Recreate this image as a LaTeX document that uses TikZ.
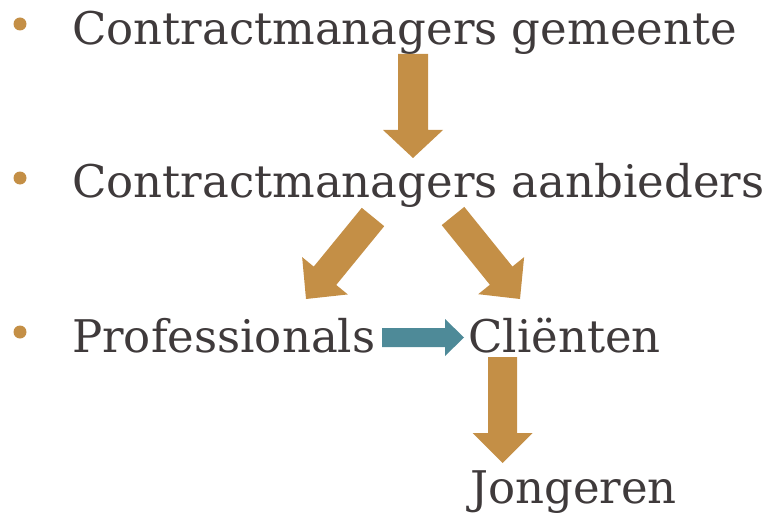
\documentclass[tikz,border=0pt]{standalone}
\usepackage{fontspec}
\setmainfont{DejaVu Serif}
\usetikzlibrary{calc}
\definecolor{txt}{HTML}{3F3A3B}
\definecolor{brown}{HTML}{C48F46}
\definecolor{teal}{HTML}{4E8A98}
\tikzset{
  lbl/.style={anchor=base west, inner sep=0pt, text=txt, font=\fontsize{45}{50}\selectfont},
  bul/.style={circle, fill=brown, minimum size=13pt, inner sep=0pt},
}
% #1 colour, #2 start, #3 end, #4 shaft half width, #5 head half width, #6 head length
\newcommand\blockarrow[6]{%
  \coordinate (hb) at ($(#3)!#6!(#2)$);
  \fill[#1] ($(#2)!#4!90:(#3)$) -- ($(hb)!#4!90:(#3)$) -- ($(hb)!#5!90:(#3)$) -- (#3)
    -- ($(hb)!#5!-90:(#3)$) -- ($(hb)!#4!-90:(#3)$) -- ($(#2)!#4!-90:(#3)$) -- cycle;
}
\begin{document}
\begin{tikzpicture}[x=1pt,y=-1pt]
\useasboundingbox (0,0) rectangle (767,513);
\node[bul] (b1) at (20,24) {};
\node[bul] (b2) at (20,178) {};
\node[bul] (b3) at (20,332) {};
\node[lbl] (gem) at (72,45) {Contractmanagers gemeente};
\node[lbl] (aan) at (72,197) {Contractmanagers aanbieders};
\node[lbl] (pro) at (72,352) {Professionals};
\node[lbl] (cli) at (468,352) {Cliënten};
\node[lbl] (jon) at (470,503) {Jongeren};
\coordinate (a1s) at (413,54);  \coordinate (a1e) at (413,158);
\coordinate (a2s) at (373,217); \coordinate (a2e) at (306,299);
\coordinate (a3s) at (453,216); \coordinate (a3e) at (520,299);
\coordinate (a4s) at (382,337.5); \coordinate (a4e) at (464,337.5);
\coordinate (a5s) at (502.5,357); \coordinate (a5e) at (502.5,463);
\blockarrow{brown}{a1s}{a1e}{15pt}{30pt}{28pt}
\blockarrow{brown}{a2s}{a2e}{14.5pt}{29.5pt}{30pt}
\blockarrow{brown}{a3s}{a3e}{14.5pt}{29.5pt}{30pt}
\blockarrow{teal}{a4s}{a4e}{9.5pt}{18.5pt}{19pt}
\blockarrow{brown}{a5s}{a5e}{14.5pt}{30pt}{30pt}
\end{tikzpicture}
\end{document}
